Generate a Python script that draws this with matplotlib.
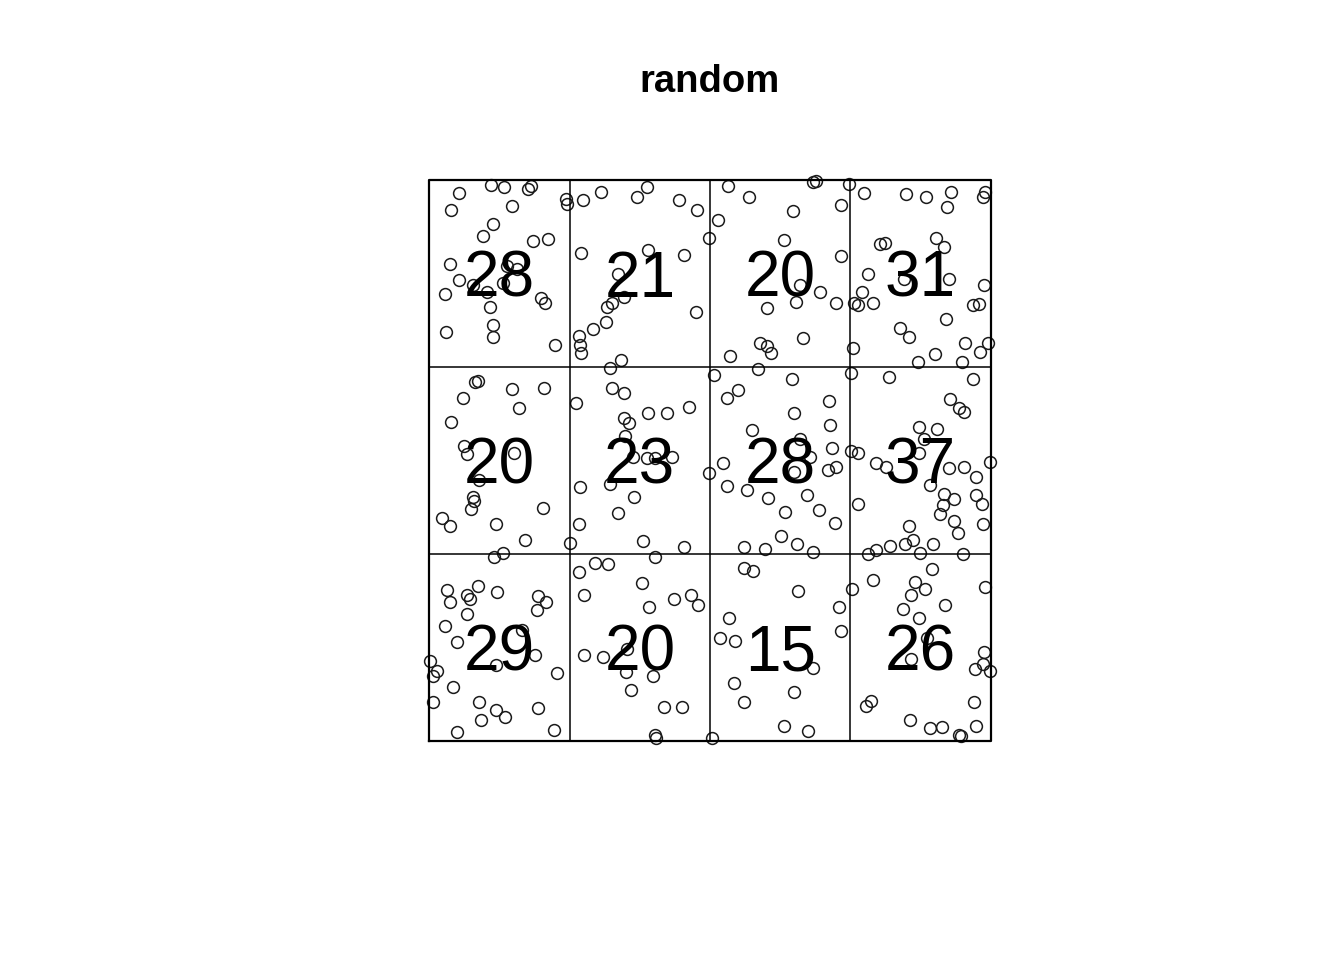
import matplotlib
matplotlib.use("Agg")
import matplotlib.pyplot as plt
import numpy as np

plt.rcParams['font.family'] = ['Liberation Sans', 'DejaVu Sans']

title = "random"

# quadrat grid: 4 columns x 3 rows, counts listed from the top row down
n_cols = 4
n_rows = 3
counts = [
    [28, 21, 20, 31],
    [20, 23, 28, 37],
    [29, 20, 15, 26],
]

# point pattern in the unit square window
# top row
x_top = [0.110, 0.133, 0.175, 0.182, 0.053, 0.038, 0.147, 0.113, 0.095, 0.184,
         0.211, 0.036, 0.139, 0.157, 0.053, 0.077, 0.132, 0.028, 0.102, 0.199,
         0.206, 0.108, 0.114, 0.113, 0.030, 0.224, 0.244, 0.246,
         0.273, 0.305, 0.370, 0.388, 0.444, 0.476, 0.499, 0.270, 0.390, 0.454,
         0.337, 0.346, 0.325, 0.316, 0.315, 0.292, 0.266, 0.269, 0.270, 0.475,
         0.342,
         0.532, 0.570, 0.684, 0.689, 0.747, 0.733, 0.648, 0.514, 0.631, 0.733,
         0.661, 0.696, 0.653, 0.725, 0.601, 0.666, 0.589, 0.602, 0.608, 0.536,
         0.775, 0.849, 0.885, 0.930, 0.922, 0.990, 0.986, 0.802, 0.812, 0.903,
         0.917, 0.782, 0.845, 0.925, 0.771, 0.756, 0.763, 0.791, 0.988, 0.969,
         0.980, 0.921, 0.838, 0.854, 0.955, 0.996, 0.981, 0.900, 0.870, 0.949,
         0.754]
y_top = [0.991, 0.987, 0.984, 0.989, 0.976, 0.946, 0.953, 0.922, 0.901, 0.891,
         0.894, 0.850, 0.846, 0.842, 0.821, 0.813, 0.817, 0.796, 0.801, 0.790,
         0.780, 0.774, 0.741, 0.720, 0.729, 0.706, 0.966, 0.958,
         0.965, 0.978, 0.970, 0.987, 0.965, 0.947, 0.897, 0.870, 0.876, 0.866,
         0.832, 0.792, 0.780, 0.774, 0.747, 0.734, 0.722, 0.706, 0.691, 0.765,
         0.679,
         0.989, 0.970, 0.997, 0.998, 0.993, 0.955, 0.945, 0.928, 0.893, 0.864,
         0.813, 0.801, 0.783, 0.781, 0.771, 0.718, 0.710, 0.704, 0.691, 0.686,
         0.977, 0.975, 0.970, 0.979, 0.951, 0.979, 0.970, 0.886, 0.888, 0.896,
         0.880, 0.832, 0.824, 0.823, 0.801, 0.780, 0.777, 0.780, 0.813, 0.777,
         0.779, 0.753, 0.737, 0.720, 0.710, 0.710, 0.694, 0.690, 0.676, 0.676,
         0.700]

# middle row
x_mid = [0.081, 0.087, 0.147, 0.204, 0.060, 0.160, 0.038, 0.062, 0.068, 0.150,
         0.089, 0.078, 0.080, 0.074, 0.202, 0.022, 0.037, 0.118, 0.171, 0.132,
         0.322, 0.325, 0.347, 0.261, 0.389, 0.424, 0.463, 0.346, 0.356, 0.349,
         0.362, 0.388, 0.402, 0.432, 0.499, 0.322, 0.269, 0.364, 0.337, 0.267,
         0.251, 0.380, 0.453,
         0.507, 0.586, 0.646, 0.550, 0.531, 0.712, 0.650, 0.574, 0.713, 0.661,
         0.717, 0.678, 0.524, 0.650, 0.710, 0.725, 0.530, 0.566, 0.603, 0.672,
         0.634, 0.694, 0.723, 0.626, 0.560, 0.598, 0.655, 0.683,
         0.751, 0.818, 0.969, 0.928, 0.943, 0.953, 0.873, 0.904, 0.882, 0.751,
         0.764, 0.873, 0.796, 0.813, 0.999, 0.926, 0.952, 0.974, 0.892, 0.917,
         0.974, 0.935, 0.915, 0.984, 0.909, 0.764, 0.934, 0.986, 0.941, 0.855,
         0.861, 0.848, 0.821, 0.897, 0.795, 0.781, 0.874]
y_mid = [0.640, 0.641, 0.628, 0.630, 0.611, 0.593, 0.568, 0.526, 0.511, 0.514,
         0.466, 0.435, 0.428, 0.413, 0.415, 0.397, 0.383, 0.386, 0.358, 0.335,
         0.665, 0.630, 0.620, 0.602, 0.585, 0.585, 0.596, 0.575, 0.567, 0.543,
         0.507, 0.504, 0.504, 0.507, 0.477, 0.459, 0.453, 0.435, 0.406, 0.387,
         0.353, 0.357, 0.346,
         0.652, 0.663, 0.645, 0.625, 0.611, 0.606, 0.585, 0.555, 0.563, 0.539,
         0.522, 0.506, 0.496, 0.480, 0.483, 0.489, 0.454, 0.447, 0.434, 0.438,
         0.408, 0.412, 0.388, 0.365, 0.345, 0.343, 0.351, 0.337,
         0.656, 0.648, 0.646, 0.609, 0.593, 0.587, 0.560, 0.557, 0.538, 0.517,
         0.514, 0.514, 0.496, 0.488, 0.498, 0.487, 0.488, 0.470, 0.456, 0.441,
         0.438, 0.431, 0.421, 0.422, 0.404, 0.422, 0.392, 0.387, 0.371, 0.384,
         0.358, 0.351, 0.347, 0.351, 0.341, 0.334, 0.336]

# bottom row
x_bot = [0.115, 0.031, 0.036, 0.067, 0.073, 0.087, 0.121, 0.068, 0.193, 0.208,
         0.192, 0.028, 0.166, 0.049, 0.188, 0.119, 0.002, 0.014, 0.006, 0.227,
         0.043, 0.006, 0.089, 0.119, 0.135, 0.092, 0.193, 0.049, 0.223,
         0.402, 0.295, 0.318, 0.267, 0.378, 0.276, 0.436, 0.466, 0.479, 0.391,
         0.276, 0.309, 0.353, 0.350, 0.399, 0.359, 0.418, 0.450, 0.402, 0.403,
         0.560, 0.577, 0.656, 0.729, 0.533, 0.733, 0.517, 0.545, 0.683, 0.543,
         0.650, 0.561, 0.632, 0.674, 0.503,
         0.950, 0.895, 0.791, 0.753, 0.865, 0.883, 0.858, 0.990, 0.844, 0.919,
         0.873, 0.886, 0.858, 0.988, 0.986, 0.972, 0.998, 0.787, 0.778, 0.971,
         0.857, 0.892, 0.913, 0.974, 0.944, 0.947]
y_bot = [0.328, 0.269, 0.248, 0.261, 0.253, 0.277, 0.265, 0.226, 0.258, 0.248,
         0.233, 0.205, 0.198, 0.177, 0.153, 0.135, 0.143, 0.125, 0.115, 0.121,
         0.097, 0.070, 0.069, 0.055, 0.042, 0.037, 0.058, 0.016, 0.020,
         0.328, 0.318, 0.315, 0.302, 0.281, 0.260, 0.254, 0.260, 0.242, 0.238,
         0.153, 0.150, 0.164, 0.123, 0.115, 0.091, 0.060, 0.060, 0.011, 0.006,
         0.309, 0.303, 0.267, 0.239, 0.219, 0.196, 0.183, 0.178, 0.130, 0.104,
         0.088, 0.070, 0.027, 0.018, 0.005,
         0.334, 0.306, 0.287, 0.271, 0.283, 0.271, 0.260, 0.275, 0.236, 0.242,
         0.219, 0.183, 0.147, 0.158, 0.138, 0.128, 0.125, 0.071, 0.063, 0.070,
         0.037, 0.024, 0.025, 0.027, 0.011, 0.009]

x_pts = x_top + x_mid + x_bot
y_pts = y_top + y_mid + y_bot

fig = plt.figure(figsize=(13.44, 9.6), dpi=100)
ax = fig.add_axes([429.3 / 1344, 219 / 960, 561.4 / 1344, 561 / 960])
ax.set_xlim(0, 1)
ax.set_ylim(0, 1)
ax.axis('off')

# points
ax.plot(x_pts, y_pts, linestyle='none', marker='o', markersize=8.5,
        markerfacecolor='none', markeredgecolor='#1a1a1a',
        markeredgewidth=1.1, clip_on=False, zorder=2)

# quadrat lines
xb = np.linspace(0, 1, n_cols + 1)
yb = np.linspace(0, 1, n_rows + 1)
for v in xb[1:-1]:
    ax.plot([v, v], [0, 1], color='black', lw=1.1, zorder=3)
for h in yb[1:-1]:
    ax.plot([0, 1], [h, h], color='black', lw=1.1, zorder=3)
ax.plot([0, 1, 1, 0, 0], [0, 0, 1, 1, 0], color='black', lw=1.6,
        clip_on=False, zorder=3)

# counts, baseline set so the digits sit centred in each quadrat
for r in range(n_rows):
    for c in range(n_cols):
        cx = (xb[c] + xb[c + 1]) / 2
        cy = (yb[n_rows - r] + yb[n_rows - r - 1]) / 2
        ax.text(cx, cy - 0.041, str(counts[r][c]), ha='center',
                va='baseline', fontsize=46, color='black', zorder=4)

fig.text(710 / 1344, 1 - 92 / 960, title, ha='center', va='baseline',
         fontsize=27.5, fontweight='bold')

fig.savefig('out.png', dpi=100)
